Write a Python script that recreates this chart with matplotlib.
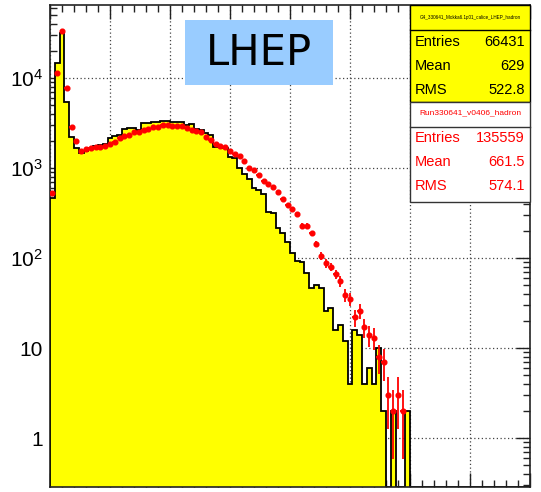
import numpy as np
import matplotlib
matplotlib.use("Agg")
import matplotlib.pyplot as plt
from matplotlib.patches import Rectangle
from matplotlib.ticker import LogLocator, NullFormatter, FixedLocator, MultipleLocator

plt.rcParams["font.family"] = ["Liberation Sans", "DejaVu Sans"]
plt.rcParams["mathtext.default"] = "regular"

# binning of the energy-sum histograms
x_min, x_max, n_bins = 0.0, 4000.0, 100

# simulation (Geant4 LHEP), scaled to data
mc_counts = [
    464, 14700, 31600, 5410, 2210, 1683, 1456, 1560, 1650, 1756,
    1815, 1849, 2137, 2285, 2325, 2693, 2761, 2800, 2643, 3134,
    3180, 3270, 3270, 3300, 3357, 3215, 3215, 3215, 3004, 3050,
    2692, 2650, 2428, 2327, 1726, 1700, 1655, 1336, 1300, 990,
    858, 755, 595, 570, 510, 327, 320, 214, 188, 152,
    113, 93, 91, 68, 46, 50, 47, 26, 28, 16,
    18, 12, 4, 16, 14, 4, 6, 4, 10, 2,
    0, 2, 0, 0, 2, 0, 0, 0, 0, 0,
    0, 0, 0, 0, 0, 0, 0, 0, 0, 0,
    0, 0, 0, 0, 0, 0, 0, 0, 0, 0,
]

# data, run 330641
data_counts = [
    532, 11450, 33300, 7680, 2830, 2010, 1557, 1614, 1668, 1698,
    1725, 1756, 1849, 1962, 2137, 2267, 2325, 2489, 2530, 2643,
    2711, 2830, 2876, 3004, 3004, 2929, 2929, 2929, 2759, 2643,
    2577, 2490, 2229, 2050, 1833, 1771, 1726, 1559, 1418, 1359,
    1196, 1009, 950, 836, 717, 664, 620, 546, 453, 388,
    350, 308, 227, 227, 188, 143, 106, 87, 80, 66,
    55, 39, 35, 22, 26, 17, 14, 13, 8, 7,
    3, 2, 3, 2, 0, 0, 0, 0, 0, 0,
    0, 0, 0, 0, 0, 0, 0, 0, 0, 0,
    0, 0, 0, 0, 0, 0, 0, 0, 0, 0,
]

y_ticks = [1, 10, 100, 1000, 10000]
y_tick_labels = ["1", "10", "$10^{2}$", "$10^{3}$", "$10^{4}$"]
y_limits = (0.286, 6.47e4)

mc_title = "G4_330641_Mokka6.1p01_calice_LHEP_hadron"
mc_stats = [("Entries", "66431"), ("Mean", "629"), ("RMS", "522.8")]
data_title = "Run330641_v0406_hadron"
data_stats = [("Entries", "135559"), ("Mean", "661.5"), ("RMS", "574.1")]

W, H = 541, 492
fig = plt.figure(figsize=(W / 100, H / 100), dpi=100)
ax = fig.add_axes([50 / W, 5 / H, 480 / W, 482 / H])

edges = np.linspace(x_min, x_max, n_bins + 1)
centers = 0.5 * (edges[:-1] + edges[1:])
width = edges[1] - edges[0]

mc = np.asarray(mc_counts, dtype=float)
mc_draw = np.where(mc > 0, mc, y_limits[0])

ax.set_yscale("log")
ax.set_xlim(x_min, x_max)
ax.set_ylim(*y_limits)

# filled simulation histogram with black outline
ax.stairs(mc_draw, edges, baseline=y_limits[0], fill=True,
          color="#ffff00", zorder=1)
ax.stairs(mc_draw, edges, baseline=y_limits[0], fill=False,
          color="black", lw=1.3, zorder=1.2)

# data points with Poisson errors
data = np.asarray(data_counts, dtype=float)
sel = data > 0
ax.errorbar(centers[sel], data[sel], yerr=np.sqrt(data[sel]),
            xerr=width / 2, fmt="o", color="#ff0000", ms=3.4,
            elinewidth=1.3, capsize=0, zorder=1.5)

# axes decoration in ROOT style
ax.set_axisbelow(True)
ax.grid(True, which="major", color="#444444", lw=0.9, ls=(0, (1, 2)))
ax.xaxis.set_major_locator(MultipleLocator(500))
ax.xaxis.set_minor_locator(MultipleLocator(100))
ax.xaxis.set_major_formatter(NullFormatter())
ax.yaxis.set_major_locator(FixedLocator(y_ticks))
ax.set_yticklabels(y_tick_labels)
ax.yaxis.set_minor_locator(LogLocator(base=10, subs=np.arange(2, 10)))
ax.yaxis.set_minor_formatter(NullFormatter())
ax.tick_params(which="both", direction="in", top=True, right=True,
               width=1.0, color="#222222")
ax.tick_params(which="major", length=10, labelsize=15, pad=5)
ax.tick_params(which="minor", length=5)
for side, sp in ax.spines.items():
    sp.set_linewidth(1.2)
    sp.set_color("#222222")
ax.spines["left"].set_zorder(0.8)


def fpos(x, y):
    return x / W, 1 - y / H


def box(x0, y0, x1, y1, face, edge="black", lw=1.0):
    r = Rectangle(fpos(x0, y1), (x1 - x0) / W, (y1 - y0) / H,
                  transform=fig.transFigure, facecolor=face,
                  edgecolor=edge, lw=lw, clip_on=False, zorder=10)
    ax.add_artist(r)


def ftext(x, y, s, **kw):
    ax.text(*fpos(x, y), s, transform=fig.transFigure, clip_on=False,
            zorder=11, va="center", **kw)


# label box
box(185, 20, 333, 85, "#99ccff", edge="none")
ftext(259, 53, "LHEP", ha="center", fontsize=30,
      family=["DejaVu Sans"], color="black")

# statistics box for the simulation
box(410, 5, 530, 102, "#ffff00")
ax.add_artist(plt.Line2D([410 / W, 530 / W], [1 - 30 / H] * 2,
                         transform=fig.transFigure, color="black",
                         lw=1.0, zorder=11, clip_on=False))
ftext(470, 17, mc_title, ha="center", fontsize=3.3, color="black")
for (k, v), y in zip(mc_stats, [42, 66, 90]):
    ftext(415, y, k, ha="left", fontsize=10.5, color="black")
    ftext(525, y, v, ha="right", fontsize=10.5, color="black")

# statistics box for the data
box(410, 102, 530, 202, "white", edge="#333333")
ax.add_artist(plt.Line2D([410 / W, 530 / W], [1 - 127 / H] * 2,
                         transform=fig.transFigure, color="#333333",
                         lw=1.0, zorder=11, clip_on=False))
ftext(470, 113, data_title, ha="center", fontsize=6, color="#ff0000")
for (k, v), y in zip(data_stats, [138, 162, 186]):
    ftext(415, y, k, ha="left", fontsize=10.5, color="#ff0000")
    ftext(525, y, v, ha="right", fontsize=10.5, color="#ff0000")

fig.savefig("out.png", dpi=100)
